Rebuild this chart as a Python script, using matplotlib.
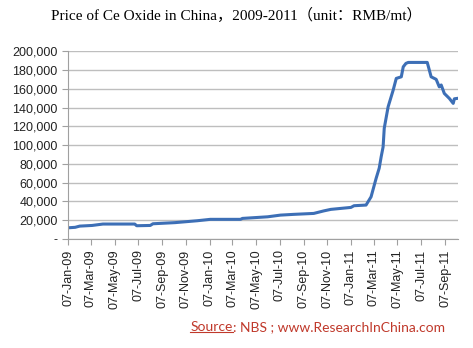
import numpy as np
import matplotlib.pyplot as plt
import matplotlib.dates as mdates
from matplotlib.ticker import FuncFormatter, MultipleLocator
from matplotlib.lines import Line2D

# price of Ce oxide, RMB/mt
dates = ["2009-01-07", "2009-01-25", "2009-02-06", "2009-03-10", "2009-04-07",
         "2009-06-28", "2009-07-03", "2009-08-07", "2009-08-14", "2009-10-10",
         "2009-12-06", "2010-01-09", "2010-03-28", "2010-04-02", "2010-06-06",
         "2010-07-09", "2010-08-12", "2010-10-03", "2010-10-29", "2010-11-16",
         "2011-01-07", "2011-01-15", "2011-02-15", "2011-02-28", "2011-03-13",
         "2011-03-21", "2011-03-26", "2011-03-31", "2011-04-03", "2011-04-13",
         "2011-04-26", "2011-05-04", "2011-05-17", "2011-05-22", "2011-05-29",
         "2011-06-04", "2011-07-23", "2011-08-02", "2011-08-15", "2011-08-23",
         "2011-08-28", "2011-09-05", "2011-09-18", "2011-09-28", "2011-10-01",
         "2011-10-08"]
prices = [12000, 12500, 13800, 14500, 16000,
          16000, 14200, 14500, 16300, 17500,
          19500, 21000, 21000, 22000, 23700,
          25500, 26300, 27300, 30000, 31600,
          33700, 35500, 36200, 45000, 64600,
          75500, 87500, 98000, 118000, 140800,
          158500, 171000, 172700, 183300, 187000,
          188000, 188000, 172700, 170000, 162000,
          164000, 155000, 149700, 144400, 149300,
          149700]

dates = np.array(dates, dtype="datetime64[D]")

plt.rcParams['font.family'] = ['Liberation Sans', 'DejaVu Sans']

fig = plt.figure(figsize=(4.73, 3.48), dpi=100)
ax = fig.add_axes([0.144, 0.313, 0.824, 0.540])

ax.plot(dates, prices, color="#3D6FB6", lw=2.2, solid_joinstyle="round")

ax.set_ylim(0, 200000)
ax.yaxis.set_major_locator(MultipleLocator(20000))
ax.yaxis.set_major_formatter(FuncFormatter(lambda v, p: "-" if v == 0 else f"{v:,.0f}"))
ax.grid(axis="y", color="#BEBEBE", lw=1)
ax.set_axisbelow(True)

ax.set_xlim(np.datetime64("2009-01-07"), np.datetime64("2011-10-10"))
ax.xaxis.set_major_locator(mdates.MonthLocator(bymonth=[1, 3, 5, 7, 9, 11], bymonthday=7))
ax.xaxis.set_major_formatter(mdates.DateFormatter("%d-%b-%y"))
plt.setp(ax.get_xticklabels(), rotation=90)

for s in ["top", "right"]:
    ax.spines[s].set_visible(False)
for s in ["left", "bottom"]:
    ax.spines[s].set_color("#A0A0A0")
ax.tick_params(axis="both", colors="#A0A0A0", labelcolor="#222222", labelsize=9, length=4)

fig.text(0.5, 0.955, "Price of Ce Oxide in China，2009-2011（unit：RMB/mt）",
         ha="center", va="center", fontsize=11,
         family=["Liberation Serif", "Noto Sans CJK SC"])

red = "#C0392B"
t1 = fig.text(0.402, 0.06, "Source", color=red, fontsize=10, va="center",
              family=["Lato", "DejaVu Sans"])
fig.canvas.draw()
bb = t1.get_window_extent().transformed(fig.transFigure.inverted())
fig.add_artist(Line2D([bb.x0, bb.x1], [bb.y0 + 0.004, bb.y0 + 0.004],
                      color=red, lw=0.8, transform=fig.transFigure))
fig.text(bb.x1, 0.06, ": NBS ; www.ResearchInChina.com", color=red, fontsize=10,
         va="center", family=["Lato", "DejaVu Sans"])

fig.savefig("out.png", dpi=100)
